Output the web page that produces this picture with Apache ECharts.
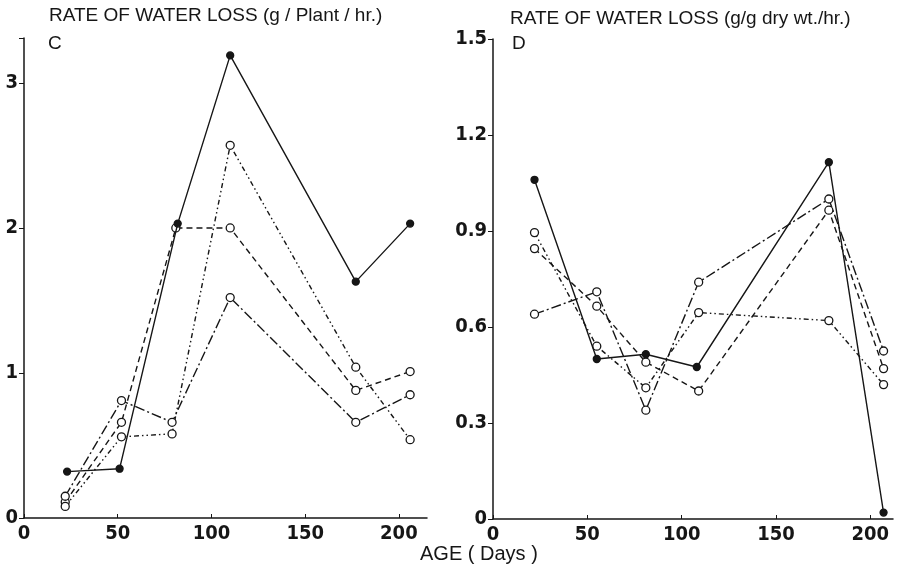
<!DOCTYPE html>
<html>
<head>
<meta charset="utf-8">
<script src="https://cdn.jsdelivr.net/npm/echarts@6/dist/echarts.min.js"></script>
<style>
  html, body { margin: 0; padding: 0; background: #fff; }
  #chart { width: 899px; height: 570px; }
</style>
</head>
<body>
<div id="chart"></div>
<script>
// panel C : g / plant / hr
const ageSolidC = [23, 51, 82, 110, 177, 206];
const solidC = [0.32, 0.34, 2.03, 3.19, 1.63, 2.03];
const ageDashedC = [22, 52, 81, 110, 177, 206];
const dashedC = [0.11, 0.66, 2.0, 2.0, 0.88, 1.01];
const ageDashDotC = [22, 52, 79, 110, 177, 206];
const dashDotC = [0.15, 0.81, 0.66, 1.52, 0.66, 0.85];
const ageDotC = [22, 52, 79, 110, 177, 206];
const dotC = [0.08, 0.56, 0.58, 2.57, 1.04, 0.54];

// panel D : g / g dry wt / hr
const ageSolidD = [22, 55, 81, 108, 178, 207];
const solidD = [1.06, 0.50, 0.515, 0.475, 1.115, 0.02];
const ageOpenD = [22, 55, 81, 109, 178, 207];
const dashDotD = [0.64, 0.71, 0.34, 0.74, 1.0, 0.525];
const dashedD = [0.845, 0.665, 0.49, 0.40, 0.965, 0.47];
const dotD = [0.895, 0.54, 0.41, 0.645, 0.62, 0.42];

const xTicks = [0, 50, 100, 150, 200];
const yTicksC = [0, 1, 2, 3];
const yTicksD = [0, 0.3, 0.6, 0.9, 1.2, 1.5];

const ink = '#161616';
const narrow = "'Liberation Sans Narrow', 'DejaVu Sans Condensed', sans-serif";
const sans = "'Liberation Sans', Arial, sans-serif";

function pairs(xs, ys) {
    return xs.map((x, i) => [x, ys[i]]);
}

function line(name, xs, ys, idx, dash, filled) {
    return {
        name: name,
        type: 'line',
        xAxisIndex: idx,
        yAxisIndex: idx,
        data: pairs(xs, ys),
        symbol: 'circle',
        symbolSize: filled ? 7 : 8,
        showSymbol: true,
        itemStyle: {
            color: filled ? ink : '#fff',
            borderColor: ink,
            borderWidth: 1.3,
        },
        lineStyle: { color: ink, width: 1.4, type: dash },
        z: filled ? 3 : 2,
        animation: false,
    };
}

function xAxis(idx, max) {
    return {
        type: 'value',
        gridIndex: idx,
        min: 0,
        max: max,
        interval: 50,
        splitLine: { show: false },
        axisLine: { lineStyle: { color: ink, width: 1.5 } },
        axisTick: { inside: true, length: 4, lineStyle: { color: ink } },
        axisLabel: {
            showMaxLabel: false,
            color: ink,
            fontSize: 20,
            fontWeight: 'bold',
            fontFamily: narrow,
            margin: 6,
            formatter: v => (xTicks.includes(v) ? String(v) : ''),
        },
    };
}

function yAxis(idx, max, interval, ticks, fmt) {
    return {
        type: 'value',
        gridIndex: idx,
        min: 0,
        max: max,
        interval: interval,
        splitLine: { show: false },
        axisLine: { lineStyle: { color: ink, width: 1.5 } },
        axisTick: { length: 5, lineStyle: { color: ink } },
        axisLabel: {
            color: ink,
            fontSize: 20,
            fontWeight: 'bold',
            fontFamily: narrow,
            margin: 6,
            padding: [0, 0, 6, 0],
            formatter: v => {
                const t = ticks.find(k => Math.abs(k - v) < 1e-6);
                return t === undefined ? '' : fmt(t);
            },
        },
    };
}

const chart = echarts.init(document.getElementById('chart'));
chart.setOption({
    backgroundColor: '#fff',
    animation: false,
    grid: [
        { left: 24, top: 38, width: 403, height: 480 },
        { left: 493, top: 39, width: 400, height: 480 },
    ],
    xAxis: [xAxis(0, 215), xAxis(1, 212)],
    yAxis: [
        yAxis(0, 3.31, 1, yTicksC, t => String(t)),
        yAxis(1, 1.5, 0.3, yTicksD, t => (t === 0 ? '0' : t.toFixed(1))),
    ],
    graphic: [
        { type: 'text', left: 49, top: 6, style: { text: 'RATE OF WATER LOSS (g / Plant / hr.)', fill: ink, font: '19px ' + sans } },
        { type: 'text', left: 48, top: 34, style: { text: 'C', fill: ink, font: '19px ' + sans } },
        { type: 'text', left: 510, top: 9, style: { text: 'RATE OF WATER LOSS (g/g dry wt./hr.)', fill: ink, font: '19px ' + sans } },
        { type: 'text', left: 512, top: 34, style: { text: 'D', fill: ink, font: '19px ' + sans } },
        { type: 'text', left: 420, top: 544, style: { text: 'AGE ( Days )', fill: ink, font: '20px ' + sans } },
    ],
    series: [
        line('C solid', ageSolidC, solidC, 0, 'solid', true),
        line('C dashed', ageDashedC, dashedC, 0, [6, 4], false),
        line('C dash-dot', ageDashDotC, dashDotC, 0, [10, 3, 2, 3], false),
        line('C dash-dot-dot', ageDotC, dotC, 0, [5, 3, 1.5, 3, 1.5, 3], false),
        line('D solid', ageSolidD, solidD, 1, 'solid', true),
        line('D dash-dot', ageOpenD, dashDotD, 1, [10, 3, 2, 3], false),
        line('D dashed', ageOpenD, dashedD, 1, [6, 4], false),
        line('D dash-dot-dot', ageOpenD, dotD, 1, [5, 3, 1.5, 3, 1.5, 3], false),
    ],
});
</script>
</body>
</html>
